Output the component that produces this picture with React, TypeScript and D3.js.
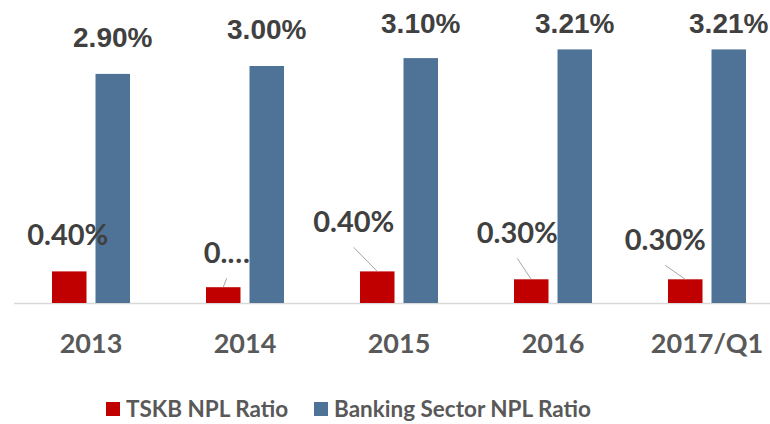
import React from "react";
import * as d3 from "d3";

const categories = ["2013", "2014", "2015", "2016", "2017/Q1"];
const tskbValues = [0.4, 0.2, 0.4, 0.3, 0.3];
const tskbLabels = ["0.40%", "0.…", "0.40%", "0.30%", "0.30%"];
const bankValues = [2.9, 3.0, 3.1, 3.21, 3.21];
const bankLabels = ["2.90%", "3.00%", "3.10%", "3.21%", "3.21%"];
const seriesNames = ["TSKB NPL Ratio", "Banking Sector NPL Ratio"];

// label placement offsets for TSKB labels (relative to bar top-centre)
const tskbLabelDx = [-1.5, 3.5, -23.5, -14, -20];
const tskbLabelDy = [-26, -24, -39, -36, -29];
const tskbLeader = [false, true, true, true, true];

const W = 770;
const H = 424;
const RED = "#C00000";
const BLUE = "#4F7396";

export default function App() {
  const baseline = 303;
  const y = d3.scaleLinear().domain([0, 3.5]).range([baseline, baseline - 3.5 * 79]);
  const x0 = d3
    .scaleBand<string>()
    .domain(categories)
    .range([14, 784])
    .paddingInner(0.4935)
    .paddingOuter(0.4935 / 2);
  const x1 = d3
    .scaleBand<string>()
    .domain(seriesNames)
    .range([0, x0.bandwidth()])
    .paddingInner(0.207);
  const calibri = "Lato, 'Open Sans', sans-serif";
  const arial = "'Liberation Sans', Arial, sans-serif";

  return (
    <svg
      width={W}
      height={H}
      style={{ position: "absolute", left: 0, top: 0, display: "block", background: "#fff" }}
    >
      {/* axis line */}
      <line x1={14} x2={W} y1={y(0) + 0.5} y2={y(0) + 0.5} stroke="#d9d9d9" strokeWidth={1.5} />
      {categories.map((c, i) => {
        const gx = x0(c)!;
        const rx = gx + x1(seriesNames[0])!;
        const bx = gx + x1(seriesNames[1])!;
        const bw = x1.bandwidth();
        const rTop = y(tskbValues[i]);
        const bTop = y(bankValues[i]);
        const rc = rx + bw / 2;
        const lx = rc + tskbLabelDx[i];
        const ly = rTop + tskbLabelDy[i];
        return (
          <g key={c}>
            <rect x={rx} y={rTop} width={bw} height={y(0) - rTop} fill={RED} />
            <rect x={bx} y={bTop} width={bw} height={y(0) - bTop} fill={BLUE} />
            <text
              x={bx + bw / 2}
              y={Math.max(bTop - 27, 33)}
              textAnchor="middle"
              fontFamily={arial}
              fontWeight="bold"
              fontSize={28}
              fill="#404040"
            >
              {bankLabels[i]}
            </text>
            {tskbLeader[i] && (
              <line x1={lx} y1={ly + 15} x2={rc} y2={rTop} stroke="#a6a6a6" strokeWidth={1} />
            )}
            <text
              x={lx}
              y={ly}
              textAnchor="middle"
              fontFamily={calibri}
              fontWeight="bold"
              fontSize={29}
              fill="#404040"
            >
              {tskbLabels[i]}
            </text>
            <text
              x={gx + x0.bandwidth() / 2}
              y={353}
              textAnchor="middle"
              fontFamily={calibri}
              fontWeight="bold"
              fontSize={27}
              fill="#595959"
            >
              {c}
            </text>
          </g>
        );
      })}
      {/* legend */}
      {seriesNames.map((s, i) => {
        const lxs = [106, 314];
        return (
          <g key={s}>
            <rect x={lxs[i]} y={402} width={14} height={14} fill={i === 0 ? RED : BLUE} />
            <text
              x={lxs[i] + 20}
              y={417}
              fontFamily={calibri}
              fontWeight="bold"
              fontSize={22.5}
              fill="#595959"
            >
              {s}
            </text>
          </g>
        );
      })}
    </svg>
  );
}
